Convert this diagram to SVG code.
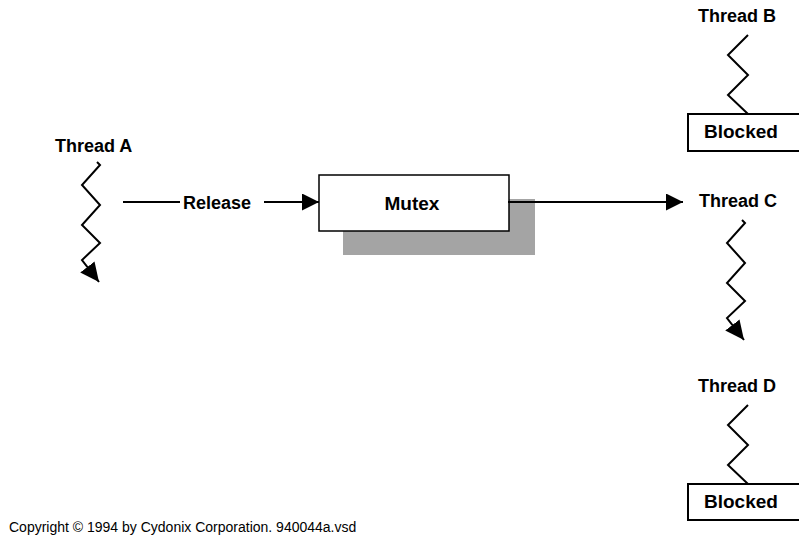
<svg xmlns="http://www.w3.org/2000/svg" width="799" height="539" viewBox="0 0 799 539">
<style>
text{font-family:"Liberation Sans",Arial,sans-serif;fill:#000}
.lbl{font-size:18px;font-weight:bold}
.big{font-size:19px;font-weight:bold}
.zig{fill:none;stroke:#000;stroke-width:2;stroke-linejoin:miter}
.box{fill:#fff;stroke:#000;stroke-width:2}
.conn{fill:none;stroke:#000;stroke-width:2}
</style>
<defs>
<marker id="ah" markerUnits="userSpaceOnUse" markerWidth="18" markerHeight="17" refX="17" refY="8.5" orient="auto">
<path d="M0,0 L17,8.5 L0,17 z" fill="#000"/>
</marker>
<marker id="ah2" markerUnits="userSpaceOnUse" markerWidth="20" markerHeight="18" refX="19" refY="9" orient="auto">
<path d="M0,0 L19,9 L0,18 z" fill="#000"/>
</marker>
</defs>
<rect width="799" height="539" fill="#fff"/>

<g id="threadA">
<text class="lbl" x="55" y="152">Thread A</text>
<path class="zig" d="M97,162 L100,165 L82,185 L100,205 L82,225 L100,243 L82,260 L99,282" marker-end="url(#ah2)"/>
</g>

<g id="release">
<text class="lbl" x="183" y="209">Release</text>
</g>

<g id="mutex">
<rect x="343" y="199" width="192" height="56" fill="#a4a4a4"/>
<rect x="319" y="175" width="190" height="56" fill="#fff" stroke="#000" stroke-width="1.5"/>
<text class="big" x="412" y="210" text-anchor="middle">Mutex</text>
</g>

<g id="threadB">
<text class="lbl" x="698" y="22">Thread B</text>
<path class="zig" d="M748,35 L728,55 L748,75 L728,95 L748,114"/>
<rect class="box" x="688" y="114" width="130" height="37"/>
<text class="big" x="704" y="138">Blocked</text>
</g>

<g id="threadC">
<text class="lbl" x="699" y="207">Thread C</text>
<path class="zig" d="M742,220 L745,223 L727,243 L745,263 L727,283 L745,301 L727,318 L744,340" marker-end="url(#ah2)"/>
</g>

<g id="threadD">
<text class="lbl" x="698" y="392">Thread D</text>
<path class="zig" d="M748,405 L728,425 L748,445 L728,465 L748,484"/>
<rect class="box" x="688" y="484" width="130" height="36"/>
<text class="big" x="704" y="508">Blocked</text>
</g>

<g id="connectors">
<line class="conn" x1="123" y1="202" x2="180" y2="202"/>
<line class="conn" x1="264" y1="202" x2="319" y2="202" marker-end="url(#ah)"/>
<line class="conn" x1="508" y1="202" x2="683" y2="202" marker-end="url(#ah)"/>
</g>

<text x="9" y="532" font-size="14">Copyright © 1994 by Cydonix Corporation. 940044a.vsd</text>
</svg>
